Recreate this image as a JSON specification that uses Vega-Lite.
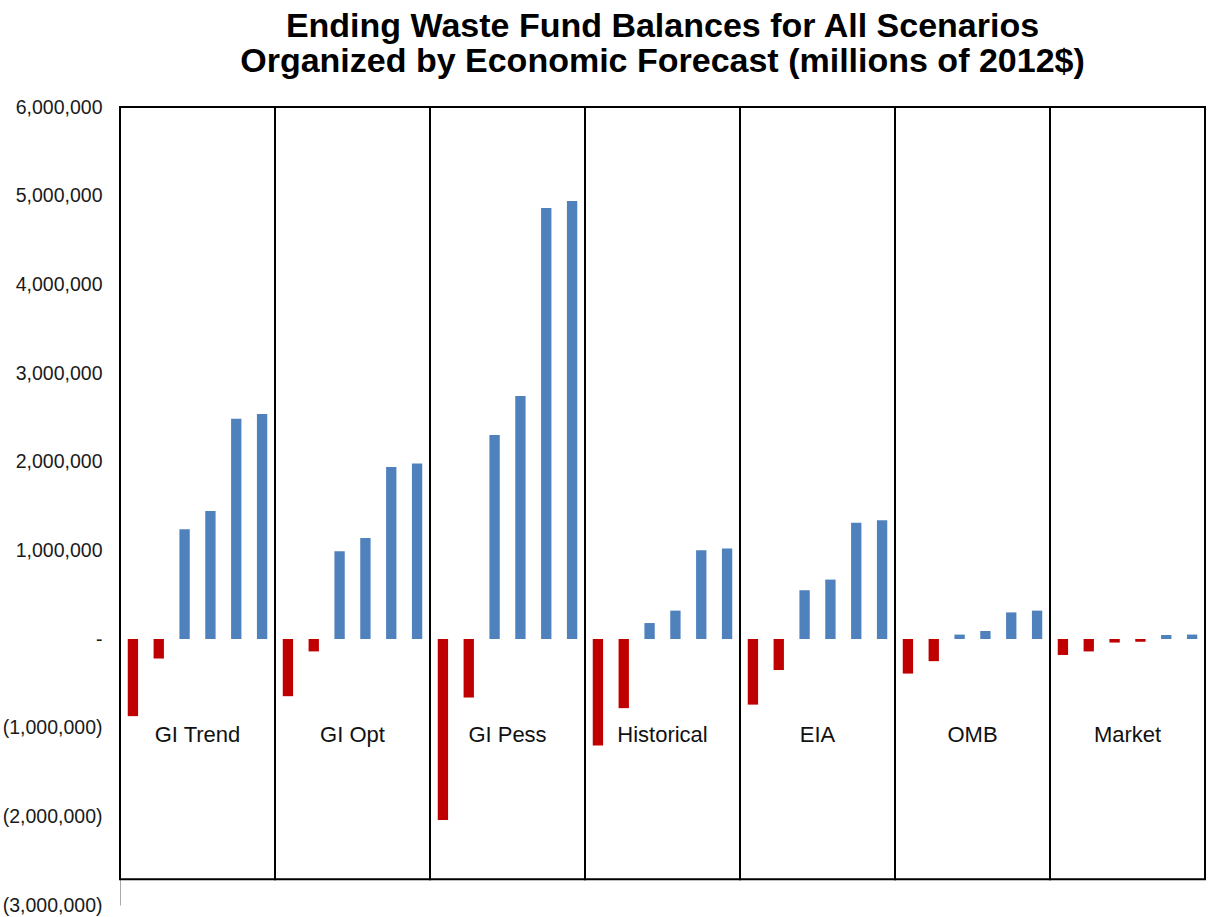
{
  "$schema": "https://vega.github.io/schema/vega-lite/v6.json",
  "autosize": "none",
  "width": 1085,
  "height": 798,
  "padding": {"left": 120, "top": 107, "right": 20, "bottom": 12},
  "background": "white",
  "title": {
    "text": ["Ending Waste Fund Balances for All Scenarios", "Organized by Economic Forecast (millions of 2012$)"],
    "font": "Liberation Sans",
    "fontWeight": "bold",
    "fontSize": 34,
    "lineHeight": 35,
    "color": "#000000",
    "anchor": "middle",
    "offset": 18
  },
  "config": {"view": {"stroke": null}, "axis": {"grid": false}},
  "datasets": {
    "groups": [
      {"group": "GI Trend"}, {"group": "GI Opt"}, {"group": "GI Pess"}, {"group": "Historical"},
      {"group": "EIA"}, {"group": "OMB"}, {"group": "Market"}
    ],
    "bars": [
      {"group": "GI Trend", "s": 1, "value": -870000},
      {"group": "GI Trend", "s": 2, "value": -220000},
      {"group": "GI Trend", "s": 3, "value": 1237000},
      {"group": "GI Trend", "s": 4, "value": 1443000},
      {"group": "GI Trend", "s": 5, "value": 2484000},
      {"group": "GI Trend", "s": 6, "value": 2537000},
      {"group": "GI Opt", "s": 1, "value": -645000},
      {"group": "GI Opt", "s": 2, "value": -140000},
      {"group": "GI Opt", "s": 3, "value": 990000},
      {"group": "GI Opt", "s": 4, "value": 1140000},
      {"group": "GI Opt", "s": 5, "value": 1940000},
      {"group": "GI Opt", "s": 6, "value": 1980000},
      {"group": "GI Pess", "s": 1, "value": -2040000},
      {"group": "GI Pess", "s": 2, "value": -660000},
      {"group": "GI Pess", "s": 3, "value": 2300000},
      {"group": "GI Pess", "s": 4, "value": 2740000},
      {"group": "GI Pess", "s": 5, "value": 4860000},
      {"group": "GI Pess", "s": 6, "value": 4940000},
      {"group": "Historical", "s": 1, "value": -1200000},
      {"group": "Historical", "s": 2, "value": -780000},
      {"group": "Historical", "s": 3, "value": 180000},
      {"group": "Historical", "s": 4, "value": 320000},
      {"group": "Historical", "s": 5, "value": 1000000},
      {"group": "Historical", "s": 6, "value": 1020000},
      {"group": "EIA", "s": 1, "value": -740000},
      {"group": "EIA", "s": 2, "value": -350000},
      {"group": "EIA", "s": 3, "value": 550000},
      {"group": "EIA", "s": 4, "value": 670000},
      {"group": "EIA", "s": 5, "value": 1310000},
      {"group": "EIA", "s": 6, "value": 1340000},
      {"group": "OMB", "s": 1, "value": -390000},
      {"group": "OMB", "s": 2, "value": -250000},
      {"group": "OMB", "s": 3, "value": 50000},
      {"group": "OMB", "s": 4, "value": 90000},
      {"group": "OMB", "s": 5, "value": 300000},
      {"group": "OMB", "s": 6, "value": 320000},
      {"group": "Market", "s": 1, "value": -180000},
      {"group": "Market", "s": 2, "value": -140000},
      {"group": "Market", "s": 3, "value": -40000},
      {"group": "Market", "s": 4, "value": -30000},
      {"group": "Market", "s": 5, "value": 45000},
      {"group": "Market", "s": 6, "value": 50000}
    ]
  },
  "encoding": {
    "x": {
      "field": "group",
      "type": "nominal",
      "sort": ["GI Trend", "GI Opt", "GI Pess", "Historical", "EIA", "OMB", "Market"],
      "scale": {"paddingInner": 0, "paddingOuter": 0},
      "axis": null
    }
  },
  "layer": [
    {
      "data": {"name": "bars"},
      "mark": {"type": "bar"},
      "encoding": {
        "xOffset": {"field": "s", "type": "ordinal", "scale": {"paddingInner": 0.6, "paddingOuter": 0.3}},
        "y": {
          "field": "value",
          "type": "quantitative",
          "scale": {"domain": [-3000000, 6000000], "nice": false, "zero": false},
          "axis": {
            "title": null,
            "values": [-3000000, -2000000, -1000000, 0, 1000000, 2000000, 3000000, 4000000, 5000000, 6000000],
            "labelExpr": "datum.value == 0 ? '-' : (datum.value < 0 ? '(' + format(-datum.value, ',') + ')' : format(datum.value, ','))",
            "labelFont": "Liberation Sans",
            "labelFontSize": 19.5,
            "labelColor": "#1a1a1a",
            "labelPadding": 18,
            "ticks": false,
            "domainColor": "#aaaaaa",
            "domainWidth": 1,
            "grid": false,
            "encode": {"labels": {"update": {"dx": {"signal": "datum.value < 0 ? 0 : -4"}}}}
          }
        },
        "color": {"condition": {"test": "datum.value < 0", "value": "#C00000"}, "value": "#4F81BD"}
      }
    },
    {
      "data": {"name": "groups"},
      "mark": {"type": "rect", "fill": null, "fillOpacity": 0, "stroke": "#000000", "strokeWidth": 2},
      "encoding": {
        "y": {"datum": 6000000, "type": "quantitative"},
        "y2": {"datum": -2710000}
      }
    },
    {
      "data": {"name": "groups"},
      "mark": {"type": "text", "font": "Liberation Sans", "fontSize": 22, "baseline": "middle", "align": "center", "color": "#111111"},
      "encoding": {
        "y": {"datum": -1080000, "type": "quantitative"},
        "text": {"field": "group"}
      }
    }
  ]
}
